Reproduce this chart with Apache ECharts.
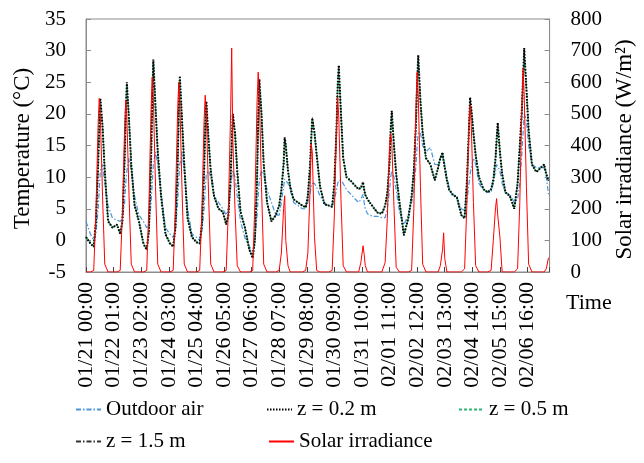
<!DOCTYPE html>
<html lang="en">
<head>
<meta charset="UTF-8">
<title>Temperature and solar irradiance</title>
<script src="https://cdn.jsdelivr.net/npm/echarts@6/dist/echarts.min.js"></script>
<style>
  html, body { margin: 0; padding: 0; background: #fff; }
  #main { width: 644px; height: 463px; }
</style>
</head>
<body>
<div id="main"></div>
<script>
// hours of the day at which values were read (each day from 01/21 00:00)
var dayOffsets = [0, 4, 7, 9, 11, 12, 13, 15, 17, 20];
var numDays = 17;          // 01/21 .. 02/06 full days
var lastDayPoints = 5;     // 02/07 up to 11:00

var tickLabels = [
  '01/21 00:00', '01/22 01:00', '01/23 02:00', '01/24 03:00', '01/25 04:00',
  '01/26 05:00', '01/27 06:00', '01/28 07:00', '01/29 08:00', '01/30 09:00',
  '01/31 10:00', '02/01 11:00', '02/02 12:00', '02/03 13:00', '02/04 14:00',
  '02/05 15:00', '02/06 16:00'
];

// Outdoor air temperature (°C)
var outdoorAir = [
  3, 1, 0, 1, 5, 8, 11, 12, 9, 5.5,            // 01/21
  3.5, 3.2, 3, 3.5, 6, 9, 11, 13, 11, 7,       // 01/22
  4, 3, 2, 2.5, 6, 9, 12, 14, 12, 7.5,         // 01/23
  2, 1, 0.5, 1.5, 6, 9.5, 12, 14, 11, 5,       // 01/24
  1, 0.5, 0, 1.5, 5, 8, 10.5, 11, 10, 7,       // 01/25
  6, 5, 4, 5, 8, 10, 11, 10, 7, 3,             // 01/26
  0.4, -1, -1.7, 0, 4, 7, 9.5, 11, 10.5, 8,    // 01/27
  6, 4, 4, 6, 8.5, 9.7, 9.5, 9, 8, 6,          // 01/28
  5.5, 5, 5, 6, 7.5, 8.5, 9, 9, 8.4, 7,        // 01/29
  6, 5.5, 5.5, 6.5, 8, 9, 9.5, 9.5, 9, 8,      // 01/30
  7.3, 6.5, 6, 6.5, 7.3, 6, 5, 4.2, 4, 3.8,    // 01/31
  3.8, 3.6, 3.6, 5, 8, 10, 11, 10, 8, 4.5,     // 02/01
  2.5, 4, 6, 8, 12, 15, 17, 17, 15, 14,        // 02/02
  14.7, 12, 12, 13, 13.5, 13, 12, 10, 8.4, 7,  // 02/03
  6.8, 5, 4.7, 6, 9, 10.5, 11.5, 13, 12, 9,    // 02/04
  8, 7.6, 7.6, 9, 11, 12, 12, 11, 9, 7.5,      // 02/05
  7.3, 6, 6.5, 9, 14, 17, 20, 19, 15, 12,      // 02/06
  11.5, 11.5, 11.5, 10, 7.3                    // 02/07
];

// z = 0.2 m (°C)
var z02 = [
  0.5, -0.5, -1, 3, 12, 18, 22.5, 18, 11, 3,
  2, 2.5, 1, 3, 13, 20, 25, 19, 12, 5.5,
  3, -0.5, -1.5, 1.5, 13, 22, 28.6, 21, 14, 7,
  1, -0.5, -1, 2, 12, 20, 26, 19, 12, 3.5,
  0.5, -0.3, -0.5, 2.5, 11, 18, 22, 16, 11, 7,
  5, 4.5, 2.5, 4, 10, 15, 20, 17, 11, 4.5,
  2, -1.5, -2.8, 0, 10, 19, 25.5, 20, 12, 6,
  3, 4, 5.5, 8, 12, 16.3, 15, 11, 8.5, 6.5,
  6, 5.5, 5.2, 7, 12, 16, 19.3, 17, 13.5, 8.5,
  5.7, 5.5, 5.3, 9, 18, 24.5, 27.7, 20, 13, 10,
  9.4, 8.6, 8.1, 8.3, 9.2, 8, 7.2, 6.5, 6, 5.3,
  4.4, 4.2, 5.5, 7.5, 12.5, 17.5, 20.5, 15, 10.5, 6,
  0.8, 3.5, 7, 11, 19, 25, 29.3, 22, 17, 13,
  12, 9.5, 11.5, 13, 13.9, 12.5, 11.5, 9.5, 8, 7.3,
  6.8, 4, 3.5, 9, 18, 22.6, 21, 17, 13.5, 10,
  8.1, 7.6, 8.1, 9.5, 13, 16, 18.6, 14, 10.5, 7.6,
  7, 5, 9, 15, 21, 26, 30.4, 24, 17.4, 12,
  10.8, 11.5, 12, 10.5, 9.4
];

// z = 0.5 m (°C)
var z05 = [
  0.5, -0.4, -0.9, 3, 12, 17.5, 22, 18, 11, 3.2,
  2, 2.5, 1.1, 3, 12.5, 19.5, 24.5, 19, 12, 5.7,
  3, -0.4, -1.4, 1.5, 12.5, 21.5, 28, 21, 14, 7.1,
  1.1, -0.4, -0.9, 2, 11.5, 19.5, 25.5, 19, 12, 3.7,
  0.6, -0.2, -0.4, 2.5, 10.5, 17.5, 21.5, 16, 11, 7,
  5, 4.5, 2.6, 4, 10, 15, 19.5, 17, 11, 4.6,
  2, -1.4, -2.6, 0, 9.5, 18.5, 25, 20, 12, 6.1,
  3.1, 4, 5.5, 8, 12, 16, 15, 11, 8.5, 6.5,
  6, 5.5, 5.2, 7, 11.5, 15.5, 19, 17, 13.5, 8.6,
  5.7, 5.5, 5.3, 9, 17.5, 24, 27, 20, 13, 10,
  9.3, 8.6, 8.1, 8.3, 9, 8, 7.2, 6.5, 6, 5.3,
  4.4, 4.2, 5.5, 7.5, 12, 17, 20, 15, 10.5, 6.1,
  0.9, 3.5, 7, 11, 18.5, 24.5, 28.5, 22, 17, 13,
  12, 9.5, 11.5, 13, 13.7, 12.5, 11.5, 9.5, 8, 7.3,
  6.8, 4.1, 3.6, 9, 17.5, 22, 20.5, 17, 13.5, 10,
  8.1, 7.6, 8.1, 9.5, 12.5, 15.5, 18, 14, 10.5, 7.6,
  7, 5.1, 9, 14.5, 20.5, 25.5, 29, 24, 17.4, 12,
  10.8, 11.5, 12, 10.5, 9.5
];

// z = 1.5 m (°C)
var z15 = [
  0.6, -0.5, -1, 3, 12, 18, 22.3, 18, 11, 3.1,
  2, 2.5, 1, 3, 13, 20, 24.8, 19, 12, 5.6,
  3, -0.5, -1.5, 1.5, 13, 22, 28.4, 21, 14, 7,
  1, -0.5, -1, 2, 12, 20, 25.8, 19, 12, 3.6,
  0.5, -0.3, -0.5, 2.5, 11, 18, 22, 16, 11, 7,
  5, 4.5, 2.5, 4, 10, 15, 20, 17, 11, 4.5,
  2, -1.5, -2.7, 0, 10, 19, 25.3, 20, 12, 6,
  3, 4, 5.5, 8, 12, 16.2, 15, 11, 8.5, 6.5,
  6, 5.5, 5.2, 7, 12, 16, 19.5, 17, 13.5, 8.5,
  5.7, 5.5, 5.3, 9, 18, 24.5, 27.5, 20, 13, 10,
  9.4, 8.6, 8.1, 8.3, 9.2, 8, 7.2, 6.5, 6, 5.3,
  4.4, 4.2, 5.5, 7.5, 12.5, 17.5, 20.5, 15, 10.5, 6,
  0.8, 3.5, 7, 11, 19, 25, 29.2, 22, 17, 13,
  12, 9.5, 11.5, 13, 13.9, 12.5, 11.5, 9.5, 8, 7.3,
  6.8, 4, 3.5, 9, 18, 22.5, 21, 17, 13.5, 10,
  8.1, 7.6, 8.1, 9.5, 13, 16, 18.5, 14, 10.5, 7.6,
  7, 5, 9, 15, 21, 26, 30.2, 24, 17.4, 12,
  10.8, 11.5, 12, 10.5, 9.4
];

// Solar irradiance (W/m2)
var solar = [
  0, 0, 5, 190, 470, 549, 490, 240, 25, 0,
  0, 0, 5, 190, 460, 543, 490, 240, 25, 0,
  0, 0, 5, 210, 520, 616, 550, 270, 25, 0,
  0, 0, 5, 210, 510, 600, 540, 260, 25, 0,
  0, 0, 5, 195, 480, 559, 500, 250, 25, 0,
  0, 0, 5, 200, 500, 708, 420, 200, 20, 0,
  0, 0, 5, 220, 540, 632, 560, 270, 25, 0,
  0, 0, 5, 60, 200, 241, 100, 20, 0, 0,
  0, 0, 5, 60, 260, 406, 380, 110, 5, 0,
  0, 0, 5, 180, 470, 552, 490, 230, 20, 0,
  0, 0, 0, 30, 83, 55, 20, 0, 0, 0,
  0, 0, 30, 170, 400, 438, 410, 210, 15, 0,
  0, 0, 5, 200, 530, 632, 560, 270, 25, 0,
  0, 0, 0, 20, 70, 124, 43, 0, 0, 0,
  0, 0, 10, 210, 470, 527, 470, 220, 20, 0,
  0, 0, 5, 100, 203, 232, 180, 110, 0, 0,
  0, 0, 10, 220, 540, 644, 560, 270, 25, 0,
  0, 0, 0, 10, 45
];

var hours = [];
for (var d = 0; d < numDays; d++) {
  for (var k = 0; k < dayOffsets.length; k++) hours.push(d * 24 + dayOffsets[k]);
}
for (var k2 = 0; k2 < lastDayPoints; k2++) hours.push(numDays * 24 + dayOffsets[k2]);

function pairs(arr) {
  return hours.map(function (h, i) { return [h, arr[i]]; });
}

var FONT = "'Liberation Serif', 'DejaVu Serif', serif";
var AXIS_GRAY = '#8c8c8c';

var myChart = echarts.init(document.getElementById('main'));

var legendBase = {
  itemWidth: 25,
  itemHeight: 12,
  padding: 0,
  itemStyle: { opacity: 0 },
  lineStyle: { opacity: 1 },
  textStyle: { fontFamily: FONT, fontSize: 21, color: '#000' }
};
function legendAt(name, left, top) {
  return Object.assign({}, legendBase, { data: [name], left: left, top: top });
}

var option = {
  animation: false,
  backgroundColor: '#fff',
  grid: {
    left: 86, right: 87, top: 19, bottom: 191,
    show: true, borderColor: AXIS_GRAY, borderWidth: 1
  },
  title: {
    text: 'Time', left: 561, top: 287,
    textStyle: { fontFamily: FONT, fontSize: 22, fontWeight: 'normal', color: '#000' }
  },
  legend: [
    legendAt('Outdoor air', 75, 399),
    legendAt('z = 0.2 m', 266, 399),
    legendAt('z = 0.5 m', 458, 399),
    legendAt('z = 1.5 m', 75, 431),
    legendAt('Solar irradiance', 268, 431)
  ],
  xAxis: {
    type: 'value',
    min: 0, max: 420, interval: 25,
    axisLine: { onZero: false, lineStyle: { color: AXIS_GRAY } },
    axisTick: { inside: true, length: 5, lineStyle: { color: '#444' } },
    splitLine: { show: false },
    axisLabel: {
      rotate: 90, margin: 10,
      fontFamily: FONT, fontSize: 22, color: '#000',
      formatter: function (v) {
        if (v % 25 !== 0) return '';
        return tickLabels[v / 25] || '';
      }
    }
  },
  yAxis: [{
    type: 'value',
    min: -5, max: 35, interval: 5,
    name: 'Temperature (°C)',
    nameLocation: 'middle', nameGap: 52,
    nameTextStyle: { fontFamily: FONT, fontSize: 23, color: '#000', padding: [0, 6, 0, 0] },
    axisLine: { show: true, lineStyle: { color: AXIS_GRAY } },
    axisTick: { show: true, inside: true, length: 5, lineStyle: { color: AXIS_GRAY } },
    splitLine: { show: false },
    axisLabel: { margin: 20, fontFamily: FONT, fontSize: 21, color: '#000' }
  }, {
    type: 'value',
    min: 0, max: 800, interval: 100,
    name: 'Solar irradiance (W/m²)',
    nameLocation: 'middle', nameGap: 60,
    nameTextStyle: { fontFamily: FONT, fontSize: 23, color: '#000', padding: [0, 8, 0, 0] },
    axisLine: { show: true, lineStyle: { color: AXIS_GRAY } },
    axisTick: { show: true, inside: true, length: 5, lineStyle: { color: AXIS_GRAY } },
    splitLine: { show: false },
    axisLabel: { margin: 21, fontFamily: FONT, fontSize: 21, color: '#000' }
  }],
  series: [{
    name: 'Outdoor air', type: 'line', yAxisIndex: 0,
    data: pairs(outdoorAir), symbol: 'none',
    itemStyle: { color: '#4a95dc' },
    lineStyle: { color: '#4a95dc', width: 1.2, type: [5, 2, 1.5, 2] }
  }, {
    name: 'z = 1.5 m', type: 'line', yAxisIndex: 0,
    data: pairs(z15), symbol: 'none',
    itemStyle: { color: '#333' },
    lineStyle: { color: '#333', width: 1, type: [5, 2, 1.5, 2] }
  }, {
    name: 'z = 0.5 m', type: 'line', yAxisIndex: 0,
    data: pairs(z05), symbol: 'none',
    itemStyle: { color: '#2fb574' },
    lineStyle: { color: '#2fb574', width: 1.5, type: [3, 2] }
  }, {
    name: 'z = 0.2 m', type: 'line', yAxisIndex: 0,
    data: pairs(z02), symbol: 'none',
    itemStyle: { color: '#000' },
    lineStyle: { color: '#000', width: 2, type: [1.5, 1.5] }
  }, {
    name: 'Solar irradiance', type: 'line', yAxisIndex: 1,
    data: pairs(solar), symbol: 'none',
    itemStyle: { color: '#ff0000' },
    lineStyle: { color: '#ff0000', width: 1 }
  }]
};

myChart.setOption(option);
window.addEventListener('resize', function () { myChart.resize(); });
</script>
</body>
</html>
